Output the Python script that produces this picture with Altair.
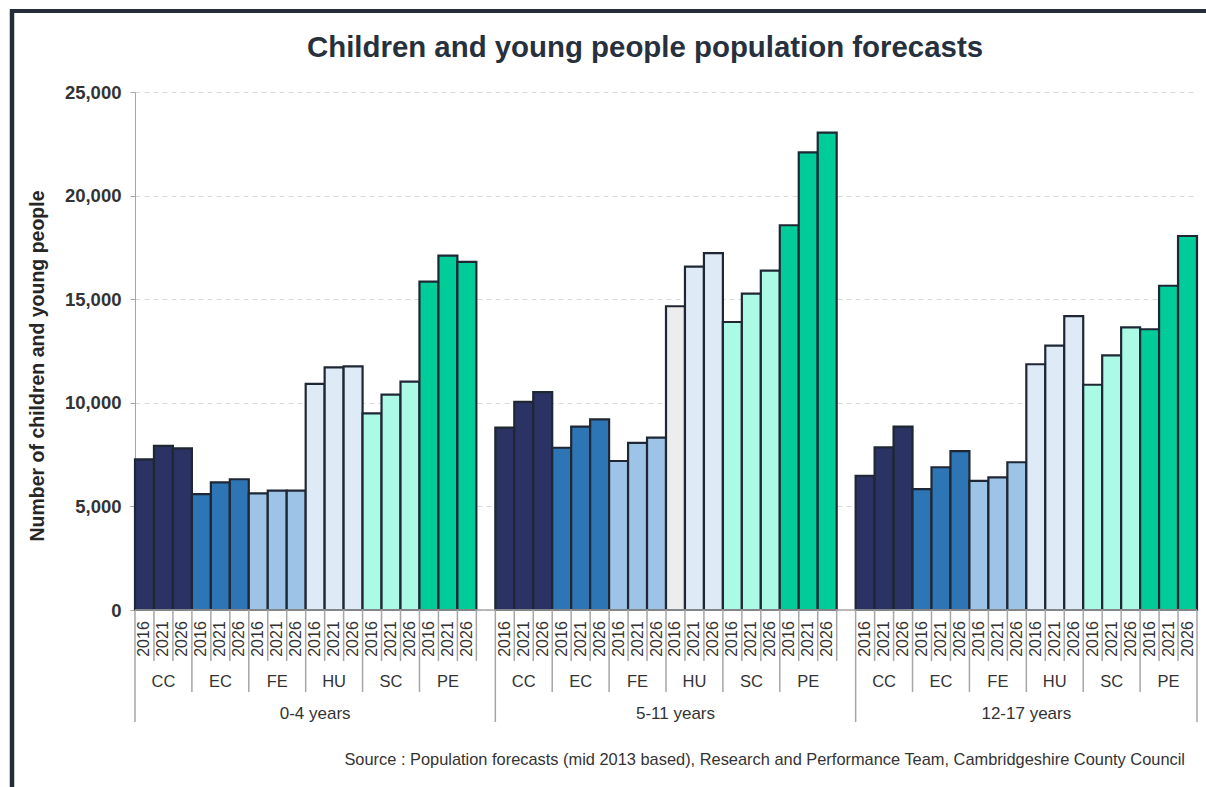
import altair as alt
import pandas as pd

# ---------------- data ----------------
age_groups = ["0-4 years", "5-11 years", "12-17 years"]
districts = ["CC", "EC", "FE", "HU", "SC", "PE"]
years = ["2016", "2021", "2026"]

values_0_4 = [7270, 7920, 7800, 5590, 6160, 6310, 5630, 5760, 5760,
              10910, 11710, 11760, 9490, 10390, 11020, 15850, 17100, 16800]
values_5_11 = [8800, 10040, 10520, 7830, 8850, 9200, 7190, 8070, 8320,
               14660, 16570, 17220, 13900, 15270, 16380, 18570, 22090, 23040]
values_12_17 = [6480, 7850, 8850, 5830, 6890, 7670, 6230, 6400, 7130,
                11860, 12760, 14180, 10870, 12290, 13640, 13550, 15650, 18050]

y_ticks = [0, 5000, 10000, 15000, 20000, 25000]
title_text = "Children and young people population forecasts"
y_title_text = "Number of children and young people"
source_text = ("Source : Population forecasts (mid 2013 based), Research and Performance Team, "
               "Cambridgeshire County Council")

district_colors = ["#2a3363", "#2e75b6", "#9dc3e6", "#deebf7", "#abfae6", "#00cc99"]

# ---------------- build tables ----------------
all_values = [values_0_4, values_5_11, values_12_17]
slots_per_group = len(districts) * len(years) + 1
rows = []
for g, age in enumerate(age_groups):
    for d, dist in enumerate(districts):
        for y, yr in enumerate(years):
            s = g * slots_per_group + d * len(years) + y
            rows.append({"age": age, "district": dist, "year": yr,
                         "value": all_values[g][d * len(years) + y],
                         "x0": s, "x1": s + 1, "xm": s + 0.5})
df = pd.DataFrame(rows)
x_max = df["x1"].max()

group_bounds = [g * slots_per_group for g in range(len(age_groups))] + [x_max]
year_lines, district_lines = [], []
for g in range(len(age_groups)):
    base = g * slots_per_group
    for k in range(1, len(districts) * len(years) + 1):
        pos = base + k
        if pos in group_bounds:
            continue
        if k % len(years) == 0 and k < len(districts) * len(years):
            district_lines.append(pos)
        else:
            year_lines.append(pos)
df_year_lines = pd.DataFrame({"pos": year_lines})
df_district_lines = pd.DataFrame({"pos": district_lines})
df_group_lines = pd.DataFrame({"pos": group_bounds})

df_district_labels = (df.groupby(["age", "district"], sort=False)
                      .agg(x0=("x0", "min"), x1=("x1", "max")).reset_index())
df_district_labels["xm"] = (df_district_labels["x0"] + df_district_labels["x1"]) / 2
df_age_labels = pd.DataFrame({
    "age": age_groups,
    "xm": [(group_bounds[i] + group_bounds[i + 1]) / 2 for i in range(len(age_groups))],
})

# ---------------- layout ----------------
W, H = 1062, 518
FONT = "Liberation Sans"
LABEL_COLOR = "#333333"
LINE_COLOR = "#a6a6a6"

xscale = alt.Scale(domain=[0, x_max], nice=False, zero=False)
yscale = alt.Scale(domain=[0, 25000], nice=False)

grey_test = ((alt.datum.age == "5-11 years") & (alt.datum.district == "HU")
             & (alt.datum.year == "2016"))

bars = alt.Chart(df).mark_bar(stroke="#1f2734", strokeWidth=2.2).encode(
    x=alt.X("x0:Q", scale=xscale, axis=None),
    x2="x1:Q",
    y=alt.Y("value:Q", scale=yscale,
            axis=alt.Axis(values=y_ticks, format=",.0f", title=None,
                          labelFont=FONT, labelFontWeight="bold", labelFontSize=18.5,
                          labelColor=LABEL_COLOR, labelPadding=9,
                          tickSize=5, tickColor=LINE_COLOR, domainColor=LINE_COLOR,
                          grid=True, gridColor="#d9d9d9", gridDash=[5, 4])),
    y2=alt.datum(0),
    color=alt.condition(grey_test, alt.value("#ededed"),
                        alt.Color("district:N",
                                  scale=alt.Scale(domain=districts, range=district_colors),
                                  legend=None)),
)

one = pd.DataFrame({"a": [0]})
x_axis_line = alt.Chart(one).mark_rule(color=LINE_COLOR, strokeWidth=1.5).encode(
    x=alt.value(0), x2=alt.value(W), y=alt.value(H))

def sep(data, depth):
    return alt.Chart(data).mark_rule(color=LINE_COLOR, strokeWidth=1.5).encode(
        x=alt.X("pos:Q", scale=xscale), y=alt.value(H), y2=alt.value(H + depth))

sep_year = sep(df_year_lines, 51)
sep_district = sep(df_district_lines, 82)
sep_group = sep(df_group_lines, 112)

year_text = alt.Chart(df).mark_text(angle=270, align="center", baseline="middle",
                                    font=FONT, fontSize=16, color=LABEL_COLOR).encode(
    x=alt.X("xm:Q", scale=xscale), y=alt.value(H + 29), text="year:N")

district_text = alt.Chart(df_district_labels).mark_text(
    align="center", baseline="alphabetic", font=FONT, fontSize=16.5, color=LABEL_COLOR).encode(
    x=alt.X("xm:Q", scale=xscale), y=alt.value(H + 77), text="district:N")

age_text = alt.Chart(df_age_labels).mark_text(
    align="center", baseline="alphabetic", font=FONT, fontSize=17, color=LABEL_COLOR).encode(
    x=alt.X("xm:Q", scale=xscale), y=alt.value(H + 109), text="age:N")

title = alt.Chart(pd.DataFrame({"t": [title_text]})).mark_text(
    align="center", baseline="alphabetic", font=FONT, fontSize=29.4, fontWeight="bold",
    color="#27313d").encode(x=alt.value(510), y=alt.value(-35), text="t:N")

y_title = alt.Chart(pd.DataFrame({"t": [y_title_text]})).mark_text(
    align="center", baseline="alphabetic", angle=270, font=FONT, fontSize=19.5,
    fontWeight="bold", color="#262626").encode(x=alt.value(-91), y=alt.value(274), text="t:N")

source = alt.Chart(pd.DataFrame({"t": [source_text]})).mark_text(
    align="right", baseline="alphabetic", font=FONT, fontSize=16.4, color="#333333").encode(
    x=alt.value(1050), y=alt.value(673), text="t:N")

frame_top = alt.Chart(one).mark_rule(color="#252d38", strokeWidth=4).encode(
    x=alt.value(-125), x2=alt.value(W + 20), y=alt.value(-81))
frame_left = alt.Chart(one).mark_rule(color="#252d38", strokeWidth=4.5).encode(
    x=alt.value(-123), y=alt.value(-83), y2=alt.value(H + 200))

chart = alt.layer(
    bars, x_axis_line, sep_year, sep_district, sep_group,
    year_text, district_text, age_text, title, y_title, source, frame_top, frame_left,
).properties(
    width=W, height=H,
    autosize=alt.AutoSizeParams(type="none"),
    padding={"left": 135, "top": 92, "right": 9, "bottom": 177},
    background="white",
).configure_view(stroke=None)

chart.save("out.html", embed_options={"renderer": "svg", "actions": False})
